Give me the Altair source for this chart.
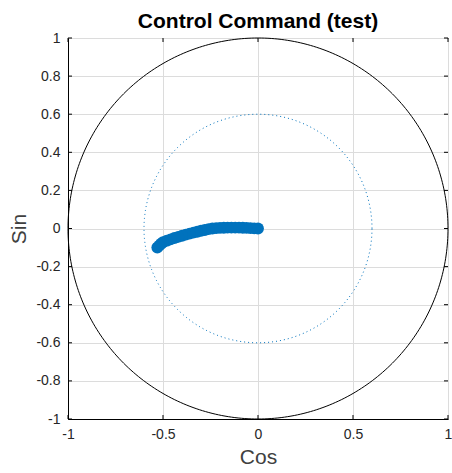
import numpy as np
import pandas as pd
import altair as alt

# Command trajectory (cos, sin)
cmd_cos = [0.0, -0.02, -0.04, -0.06, -0.08, -0.10, -0.12, -0.14, -0.16, -0.18,
           -0.20, -0.22, -0.24, -0.26, -0.28, -0.30, -0.32, -0.34, -0.36, -0.38,
           -0.40, -0.42, -0.44, -0.46, -0.48, -0.50, -0.51, -0.52, -0.53]
cmd_sin = [0.0, 0.001, 0.002, 0.003, 0.004, 0.005, 0.005, 0.005, 0.005, 0.004,
           0.003, 0.002, 0.0, -0.003, -0.008, -0.012, -0.017, -0.022, -0.027, -0.032,
           -0.038, -0.044, -0.050, -0.057, -0.064, -0.072, -0.080, -0.090, -0.100]

# Reference circles
outer_radius = 1.0
limit_radius = 0.6
y_tick_values = [-1, -0.8, -0.6, -0.4, -0.2, 0, 0.2, 0.4, 0.6, 0.8, 1]
x_tick_values = [-1, -0.5, 0, 0.5, 1]

W, H = 380, 381
TICK = 4

theta = np.linspace(0, 2 * np.pi, 361)
circles = pd.DataFrame({
    "x": np.concatenate([outer_radius * np.cos(theta), limit_radius * np.cos(theta)]),
    "y": np.concatenate([outer_radius * np.sin(theta), limit_radius * np.sin(theta)]),
    "k": np.concatenate([np.arange(361), np.arange(361)]),
    "ring": ["outer"] * 361 + ["limit"] * 361,
})
points = pd.DataFrame({"x": cmd_cos, "y": cmd_sin})
xt = pd.DataFrame({"v": x_tick_values})
yt = pd.DataFrame({"v": y_tick_values})

FONT = "Liberation Sans"
xs = alt.Scale(domain=[-1, 1], nice=False, zero=False)
ys = alt.Scale(domain=[-1, 1], nice=False, zero=False)

plain_label = "toString(datum.value)"
x_axis = alt.Axis(values=x_tick_values, title="Cos", grid=True, ticks=False,
                  labelExpr=plain_label, labelOverlap=False, labelFlush=False)
y_axis = alt.Axis(values=y_tick_values, title="Sin", grid=True, ticks=False,
                  labelExpr=plain_label, labelOverlap=False, labelFlush=False)


def X(field):
    return alt.X(field, scale=xs, axis=x_axis)


def Y(field):
    return alt.Y(field, scale=ys, axis=y_axis)


outer = alt.Chart(circles).transform_filter(alt.datum.ring == "outer").mark_line(
    color="black", strokeWidth=1
).encode(x=X("x:Q"), y=Y("y:Q"), order="k:Q")

limit = alt.Chart(circles).transform_filter(alt.datum.ring == "limit").mark_line(
    color="#0072BD", strokeWidth=1, strokeDash=[1, 3]
).encode(x=X("x:Q"), y=Y("y:Q"), order="k:Q")

traj = alt.Chart(points).mark_point(
    filled=True, shape="circle", size=140, color="#0072BD", opacity=1
).encode(x=X("x:Q"), y=Y("y:Q"))

# Inward tick marks on all four sides of the box
tick_style = dict(color="black", strokeWidth=1)
ticks_bottom = alt.Chart(xt).mark_rule(**tick_style).encode(
    x=X("v:Q"), y=alt.value(H), y2=alt.value(H - TICK))
ticks_top = alt.Chart(xt).mark_rule(**tick_style).encode(
    x=X("v:Q"), y=alt.value(0), y2=alt.value(TICK))
ticks_left = alt.Chart(yt).mark_rule(**tick_style).encode(
    y=Y("v:Q"), x=alt.value(0), x2=alt.value(TICK))
ticks_right = alt.Chart(yt).mark_rule(**tick_style).encode(
    y=Y("v:Q"), x=alt.value(W), x2=alt.value(W - TICK))

chart = alt.layer(
    outer, limit, traj, ticks_bottom, ticks_top, ticks_left, ticks_right
).properties(
    width=W,
    height=H,
    title=alt.TitleParams("Control Command (test)", font=FONT, fontSize=21,
                          fontWeight="bold", color="black", offset=0, dy=1),
    autosize=alt.AutoSizeParams(type="none"),
    padding={"left": 68, "top": 38, "right": 4, "bottom": 54},
).configure_view(
    stroke="black", strokeWidth=1
).configure_axis(
    labelFont=FONT, labelFontSize=14, labelColor="#262626",
    titleFont=FONT, titleFontSize=21, titleFontWeight="normal", titleColor="#404040",
    domainColor="black", domainWidth=1,
    gridColor="#dcdcdc", gridWidth=1,
).configure_axisX(
    labelPadding=8, titlePadding=5,
).configure_axisY(
    labelPadding=8, titlePadding=6,
)

chart.save("out.html", embed_options={"renderer": "svg", "actions": False})
